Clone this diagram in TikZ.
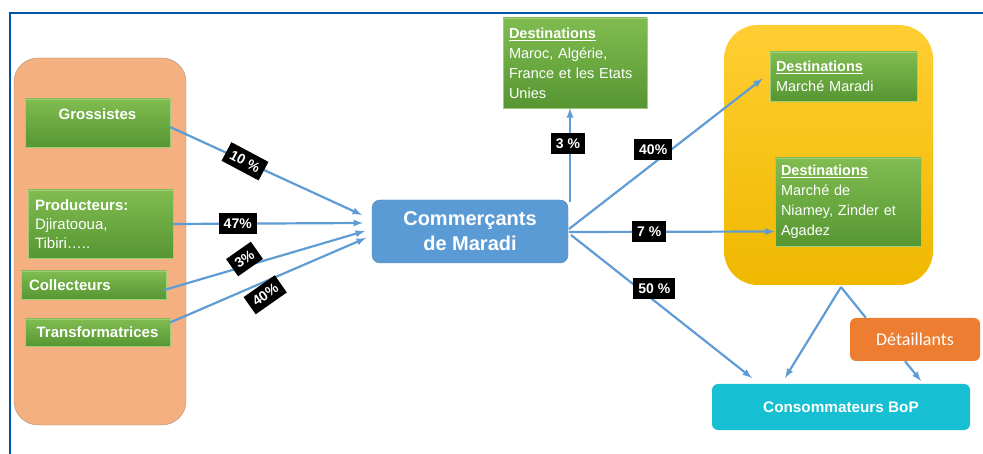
\documentclass[tikz,border=0pt]{standalone}
\usepackage{fontspec}
\setmainfont{Liberation Sans}
\newfontfamily\calibrifont{Carlito}
\usetikzlibrary{positioning, arrows, calc}
\usepackage{xcolor}
\definecolor{framecolor}{RGB}{0,84,166}
\definecolor{sourcecolor}{RGB}{245,176,130}
\definecolor{sourceborder}{RGB}{170,140,120}
\definecolor{greentop}{RGB}{128,188,80}
\definecolor{greenbottom}{RGB}{86,150,50}
\definecolor{greenborder}{RGB}{160,205,120}
\definecolor{tradercolor}{RGB}{91,155,213}
\definecolor{flowcolor}{RGB}{96,156,212}
\definecolor{markettop}{RGB}{255,206,50}
\definecolor{marketbottom}{RGB}{240,184,0}
\definecolor{retailcolor}{RGB}{237,125,49}
\definecolor{consumercolor}{RGB}{22,192,210}

\begin{document}
\begin{tikzpicture}[x=1pt, y=-1pt]
  \tikzset{
    container/.style={
      minimum width=#1,
      anchor=center
    },
    actor/.style={
      draw=greenborder,
      top color=greentop,
      bottom color=greenbottom,
      text=white,
      anchor=center,
      font=\bfseries\fontsize{15}{19}\selectfont
    },
    dest/.style={
      draw=greenborder,
      top color=greentop,
      bottom color=greenbottom,
      text=white,
      anchor=center,
      align=left,
      inner sep=6pt,
      font=\fontsize{14.5}{20}\selectfont
    },
    pct/.style={
      fill=black,
      text=white,
      inner xsep=5pt,
      inner ysep=3pt,
      minimum height=21pt,
      font=\bfseries\fontsize{14}{16}\selectfont
    },
    flow/.style={
      draw=flowcolor,
      line width=2.2pt,
      -latex
    }
  }
  \useasboundingbox (0,0) rectangle (983,454);

  % Frame of the slide
  \draw[framecolor, line width=2pt] (983,13) -- (10,13) -- (10,454);

  % Draw the two groups
  \node[container=172pt, minimum height=367pt, draw=sourceborder, fill=sourcecolor,
    rounded corners=24pt] at (100,241.5) (sources) {};
  \node[container=209pt, minimum height=260pt, top color=markettop, bottom color=marketbottom,
    rounded corners=34pt] at (828.5,155) (markets) {};

  % Suppliers
  \node[actor, minimum width=145pt, minimum height=48pt, text depth=18pt] at (97.5,123) (grossistes) {Grossistes};
  \node[actor, minimum width=145pt, minimum height=68pt, text width=131pt, align=left,
    inner sep=7pt] at (100.5,224) (producteurs) {Producteurs:\\
    \mdseries Djiratooua,\\
    \mdseries Tibiri…..};
  \node[actor, minimum width=145pt, minimum height=28pt, text width=129pt, align=left,
    inner sep=8pt] at (93.5,285) (collecteurs) {Collecteurs};
  \node[actor, minimum width=145pt, minimum height=27pt] at (97.5,332.5) (transformatrices) {Transformatrices};

  % Traders
  \node[draw=tradercolor!85!black, fill=tradercolor, text=white, rounded corners=8pt,
    minimum width=196pt, minimum height=63pt, align=center,
    font=\bfseries\fontsize{20}{25}\selectfont] at (470,231.5) (commercants) {Commerçants\\de Maradi};

  % Destinations
  \node[dest, minimum width=144pt, minimum height=90pt, text width=132pt] at (575,63) (export)
    {\textbf{\underline{Destinations}}\\Maroc, Algérie,\\France et les Etats\\Unies};
  \node[dest, minimum width=147pt, minimum height=49pt, text width=135pt] at (843.5,76.5) (maradi)
    {\textbf{\underline{Destinations}}\\Marché Maradi};
  \node[dest, minimum width=146pt, minimum height=88pt, text width=134pt] at (848,202) (niamey)
    {\textbf{\underline{Destinations}}\\Marché de\\Niamey, Zinder et\\Agadez};

  % Retail and consumers
  \node[fill=retailcolor, text=white, rounded corners=6pt, minimum width=130pt, minimum height=43pt,
    font=\calibrifont\fontsize{18}{20}\selectfont] at (915,339.5) (detaillants) {Détaillants};
  \node[fill=consumercolor, text=white, rounded corners=6pt, minimum width=258pt, minimum height=46pt,
    font=\bfseries\fontsize{15.3}{18}\selectfont] at (841,407) (consommateurs) {Consommateurs BoP};

  % Free ends of the arrows
  \coordinate (inA) at (362,215);
  \coordinate (inB) at (363,223);
  \coordinate (inC) at (365,231);
  \coordinate (inD) at (366,238);
  \coordinate (hub) at (569,229);
  \coordinate (up) at (570,202);
  \coordinate (split) at (841,287);
  \coordinate (outA) at (752,378);
  \coordinate (outB) at (785,378);
  \coordinate (outC) at (921,381);

  % Flows into the traders
  \draw[flow] (grossistes.east) ++(0,4) -- (inA) node[pct, pos=0.39, rotate=-28] {10 \%};
  \draw[flow] (producteurs.east) -- (inB) node[pct, pos=0.34] {47\%};
  \draw[flow] (collecteurs.east) ++(-2,5) -- (inC) node[pct, pos=0.39, xshift=2pt, yshift=8pt, rotate=35] {3\%};
  \draw[flow] (transformatrices.east) ++(0,-10) -- (inD) node[pct, pos=0.47, xshift=3pt, yshift=-12pt, rotate=35] {40\%};

  % Flows out of the traders
  \draw[flow] (up) -- (up |- export.south) node[pct, pos=0.62, xshift=-2pt] {3 \%};
  \draw[flow] (hub) -- ($(maradi.west)+(-7,2)$)
    node[pct, pos=0.45, xshift=-3pt, yshift=12pt] {40\%};
  \draw[flow] (hub) ++(0,3) -- (niamey.west |- commercants.east)
    node[pct, pos=0.39] {7 \%};
  \draw[flow] (hub) ++(2,6) -- (outA)
    node[pct, pos=0.46, yshift=12pt] {50 \%};

  % From the markets to the consumers
  \draw[flow] (split) -- (outB);
  \draw[draw=flowcolor, line width=2.2pt] (split) -- ($(detaillants.north west)+(16,0)$);
  \draw[flow] ($(detaillants.south)+(-10,0)$) -- (outC);
\end{tikzpicture}
\end{document}
